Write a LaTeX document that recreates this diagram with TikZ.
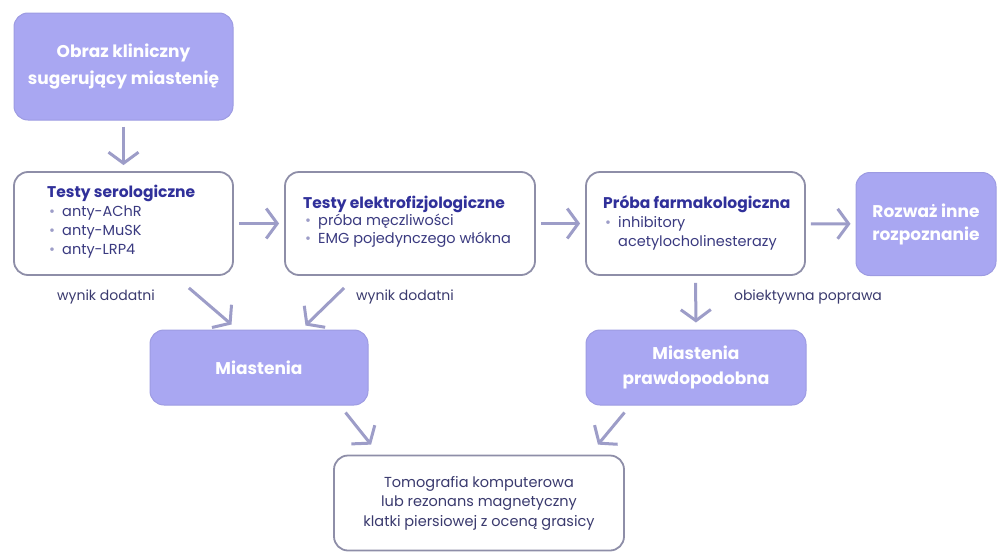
\documentclass[tikz,border=0pt]{standalone}
\usepackage{fontspec}
\setmainfont{Poppins}
\usetikzlibrary{arrows.meta}
\definecolor{fillc}{HTML}{A9A7F2}
\definecolor{fillb}{HTML}{9D9BE2}
\definecolor{boxb}{HTML}{8E8EA8}
\definecolor{arrc}{HTML}{9D9DC8}
\definecolor{headc}{HTML}{30309A}
\definecolor{bodyc}{HTML}{3A3A80}
\definecolor{txtc}{HTML}{3A3A6E}
\tikzset{
  filled/.style={draw=fillb, line width=1pt, fill=fillc, rounded corners=14pt, inner sep=0pt,
    text=white, font=\fontsize{17}{25}\selectfont\bfseries, align=center},
  plain/.style={draw=boxb, line width=1.8pt, fill=white, rounded corners=14pt, inner sep=0pt},
  arr/.style={draw=arrc, line width=3pt, -{Straight Barb[length=11pt,width=30pt,line width=3pt]}},
  lbl/.style={text=txtc, font=\fontsize{14}{16}\selectfont, inner sep=0pt},
  hd/.style={text=headc, font=\fontsize{15.5}{17}\selectfont\bfseries, anchor=west, inner sep=0pt},
  it/.style={text=bodyc, font=\fontsize{14.5}{16}\selectfont, anchor=west, inner sep=0pt},
  bul/.style={text=arrc, font=\fontsize{14.5}{16}\selectfont, anchor=west, inner sep=0pt},
}
\begin{document}
\begin{tikzpicture}[x=1pt,y=-1pt]
\useasboundingbox (0,0) rectangle (1000,554);
% boxes
\node[filled, minimum width=219pt, minimum height=107pt, font=\fontsize{17}{27}\selectfont\bfseries] (A) at (123.5,66.5) {Obraz kliniczny\\sugerujący miastenię};
\node[plain, minimum width=219pt, minimum height=103pt] (B) at (123.5,223.5) {};
\node[plain, minimum width=250pt, minimum height=103pt] (C) at (410,223.5) {};
\node[plain, minimum width=219pt, minimum height=103pt] (D) at (695.5,223.5) {};
\node[filled, minimum width=140pt, minimum height=103pt, font=\fontsize{17}{23}\selectfont\bfseries] (E) at (926,224) {Rozważ inne\\rozpoznanie};
\node[filled, minimum width=218pt, minimum height=75pt] (F) at (259,367.5) {Miastenia};
\node[filled, minimum width=220pt, minimum height=75pt] (G) at (696,367.5) {Miastenia\\prawdopodobna};
\node[plain, minimum width=290pt, minimum height=95pt, text=txtc, align=center,
  font=\fontsize{14.5}{19.5}\selectfont] (H) at (479,503) {Tomografia komputerowa\\lub rezonans magnetyczny\\klatki piersiowej z oceną grasicy};
% box B text
\node[hd] (B0) at (47,193) {Testy serologiczne};
\node[bul] (Bb1) at (49,213) {•};
\node[it] (B1) at (62,213) {anty-AChR};
\node[bul] (Bb2) at (49,232) {•};
\node[it] (B2) at (62,232) {anty-MuSK};
\node[bul] (Bb3) at (49,251) {•};
\node[it] (B3) at (62,251) {anty-LRP4};
% box C text
\node[hd] (C0) at (303,204) {Testy elektrofizjologiczne};
\node[bul] (Cb1) at (305,222) {•};
\node[it] (C1) at (318,222) {próba męczliwości};
\node[bul] (Cb2) at (305,240) {•};
\node[it] (C2) at (318,240) {EMG pojedynczego włókna};
% box D text
\node[hd] (D0) at (603,204) {Próba farmakologiczna};
\node[bul] (Db1) at (605,224) {•};
\node[it] (D1) at (618,224) {inhibitory};
\node[it] (D2) at (618,243) {acetylocholinesterazy};
% labels
\node[lbl] (L1) at (106,297) {wynik dodatni};
\node[lbl] (L2) at (405,297) {wynik dodatni};
\node[lbl] (L3) at (808,297) {obiektywna poprawa};
% arrows
\draw[arr, shorten <=6pt, shorten >=6pt] (A) -- (B);
\draw[arr, shorten <=5pt, shorten >=5pt] (B) -- (C);
\draw[arr, shorten <=5pt, shorten >=5pt] (C) -- (D);
\draw[arr, shorten <=5pt, shorten >=5pt] (D) -- (E);
\draw[arr, shorten <=7pt, shorten >=7pt] (D.south) -- (G.north);
\draw[arr] ([xshift=-45pt,yshift=-12pt]B.south east) -- ([xshift=82pt,yshift=5pt]F.north west);
\draw[arr] ([xshift=60pt,yshift=-12pt]C.south west) -- ([xshift=-63pt,yshift=4pt]F.north east);
\draw[arr] ([xshift=-23pt,yshift=-7pt]F.south east) -- ([xshift=38pt,yshift=10pt]H.north west);
\draw[arr] ([xshift=39pt,yshift=-7pt]G.south west) -- ([xshift=-27pt,yshift=10pt]H.north east);
\end{tikzpicture}
\end{document}
